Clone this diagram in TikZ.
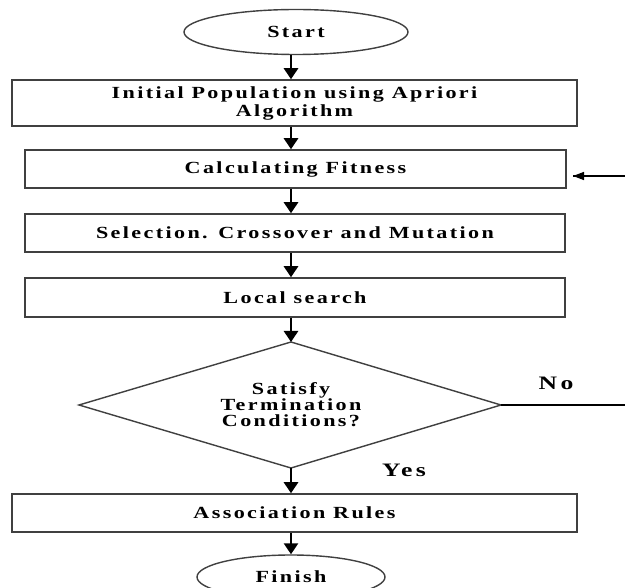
\documentclass[tikz,border=0pt]{standalone}
\usepackage{fontspec}
\newfontfamily\labfont{Liberation Serif Bold}[FakeStretch=1.3,LetterSpace=14]
\newfontfamily\lblfont{Liberation Serif Bold}[FakeStretch=1.35,LetterSpace=18]
\usetikzlibrary{shapes.geometric,arrows.meta}
\begin{document}
\begin{tikzpicture}[x=1pt,y=-1pt,
  every node/.style={font=\labfont\fontsize{17}{16}\selectfont},
  term/.style={draw=black!75,line width=1.4pt,ellipse,inner sep=0pt},
  procbox/.style={draw=black!75,line width=1.5pt,rectangle,inner sep=0pt,align=center},
  decline/.style={draw=black!75,line width=1.4pt},
  flow/.style={line width=2.6pt,-{Triangle[length=11pt,width=14pt]}},
  loopline/.style={line width=1.4pt,-{Triangle[length=11pt,width=8pt]}},
  lbl/.style={font=\lblfont\fontsize{19}{19}\selectfont}]
\useasboundingbox (0,0) rectangle (625,588);
\fill[white] (0,0) rectangle (625,588);
\node[term,minimum width=224pt,minimum height=45pt] (start) at (296,32) {Start};
\node[procbox,minimum width=565pt,minimum height=46pt] (b1) at (294.5,103) {Initial Population using Apriori\\[2pt]Algorithm};
\node[procbox,minimum width=541pt,minimum height=38pt] (b2) at (295.5,169) {Calculating Fitness};
\node[procbox,minimum width=540pt,minimum height=38pt] (b3) at (295,233) {Selection. Crossover and Mutation};
\node[procbox,minimum width=540pt,minimum height=39pt] (b4) at (295,297.5) {Local search};
\coordinate (decn) at (291,342);
\coordinate (dece) at (501,405);
\coordinate (decs) at (291,468);
\coordinate (decw) at (79,405);
\draw[decline] (decn) -- (dece) -- (decs) -- (decw) -- cycle;
\node[align=center] (dec) at (291,405) {Satisfy\\Termination\\Conditions?};
\node[procbox,minimum width=565pt,minimum height=38pt] (b5) at (294.5,513) {Association Rules};
\node[term,minimum width=188pt,minimum height=44pt] (fin) at (291,577) {Finish};
\node[lbl] (no) at (556,383) {No};
\node[lbl] (yes) at (404,470) {Yes};
\coordinate (c1) at (645,405);
\coordinate (c2) at (645,176);
\coordinate (c3) at (573,176);
\draw[flow] (start.south -| 291,0) -- (b1.north -| 291,0);
\draw[flow] (b1.south -| 291,0) -- (b2.north -| 291,0);
\draw[flow] (b2.south -| 291,0) -- (b3.north -| 291,0);
\draw[flow] (b3.south -| 291,0) -- (b4.north -| 291,0);
\draw[flow] (b4.south -| 291,0) -- (decn);
\draw[flow] (decs) -- (b5.north -| 291,0);
\draw[flow] (b5.south -| 291,0) -- (fin.north -| 291,0);
\draw[line width=1.4pt] (dece) -- (c1) -- (c2) -- (c3);
\draw[loopline] (c2) -- (c3);
\end{tikzpicture}
\end{document}
